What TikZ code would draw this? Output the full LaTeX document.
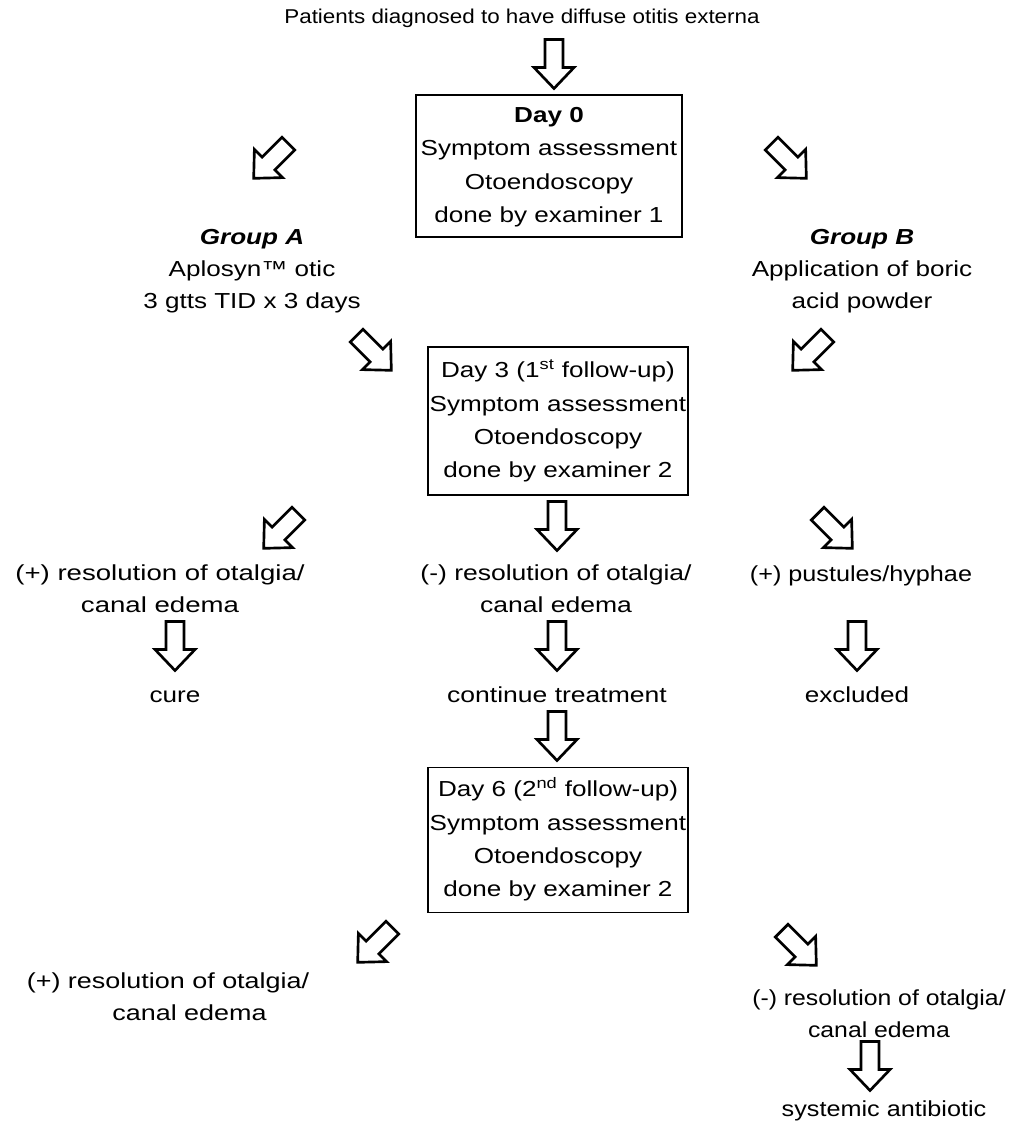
\documentclass[tikz,border=0pt]{standalone}
\usepackage{fontspec}
\setmainfont{Liberation Sans}
\newcommand\tl[2][1.2]{\scalebox{#1}[1]{\begin{tabular}{@{}c@{}}#2\end{tabular}}}
\newcommand\barrow[3]{%
  \draw[blockarrow, shift={(#1,#2)}, rotate=#3]
    (-9,-24.5) -- (9,-24.5) -- (9,3.5) -- (20,3.5) -- (0,24.5) -- (-20,3.5) -- (-9,3.5) -- cycle;}
\begin{document}
\begin{tikzpicture}[x=0.75pt, y=-0.75pt,
  txt/.style={inner sep=0pt, font=\fontsize{16.3}{24}\selectfont},
  boxtxt/.style={draw, line width=1.4pt, inner sep=0pt, font=\fontsize{16.3}{25}\selectfont,
                 minimum width=#1*0.75pt},
  blockarrow/.style={draw=black, fill=white, line width=2pt, line join=miter}]
\useasboundingbox[fill=white] (0,0) rectangle (1011,1126);

% texts
\node[txt, font=\fontsize{15}{22}\selectfont] (top) at (522,18) {\tl[1.12]{Patients diagnosed to have diffuse otitis externa}};

\node[boxtxt=266, minimum height=142*0.75pt] (d0) at (549,166)
  {\tl{\textbf{Day 0}\\Symptom assessment\\Otoendoscopy\\done by examiner 1}};

\node[txt] (ga) at (252,270) {\tl{\textbf{\textit{Group A}}\\Aplosyn™ otic\\3 gtts TID x 3 days}};
\node[txt] (gb) at (862,270) {\tl{\textbf{\textit{Group B}}\\Application of boric\\acid powder}};

\node[boxtxt=260, minimum height=148*0.75pt] (d3) at (558,421)
  {\tl{Day 3 (1\textsuperscript{st} follow-up)\\Symptom assessment\\Otoendoscopy\\done by examiner 2}};

\node[txt] (r3p) at (160,590) {\tl[1.27]{(+) resolution of otalgia/\\canal edema}};
\node[txt] (r3m) at (556,590) {\tl[1.22]{(-) resolution of otalgia/\\canal edema}};
\node[txt] (pus) at (861,575) {\tl[1.16]{(+) pustules/hyphae}};

\node[txt] (cure) at (175,696) {\tl{cure}};
\node[txt] (cont) at (557,696) {\tl[1.22]{continue treatment}};
\node[txt] (excl) at (857,696) {\tl{excluded}};

\node[boxtxt=260, minimum height=145*0.75pt] (d6) at (558,840)
  {\tl{Day 6 (2\textsuperscript{nd} follow-up)\\Symptom assessment\\Otoendoscopy\\done by examiner 2}};

\node[txt] (r6p) at (168,998) {\tl[1.24]{(+) resolution of otalgia/\\\hspace*{26pt}canal edema}};
\node[txt] (r6m) at (879,1015) {\tl[1.14]{(-) resolution of otalgia/\\canal edema}};
\node[txt] (sys) at (884,1110) {\tl[1.16]{systemic antibiotic}};

% block arrows
\barrow{554}{64}{0}
\barrow{271}{161}{-45}
\barrow{789}{161}{45}
\barrow{374}{353}{45}
\barrow{810}{353}{-45}
\barrow{281}{531}{-45}
\barrow{557}{526}{0}
\barrow{835}{531}{45}
\barrow{175}{646}{0}
\barrow{557}{646}{0}
\barrow{857}{646}{0}
\barrow{557}{736}{0}
\barrow{375}{945}{-45}
\barrow{799}{948}{45}
\barrow{870}{1066}{0}
\end{tikzpicture}
\end{document}
